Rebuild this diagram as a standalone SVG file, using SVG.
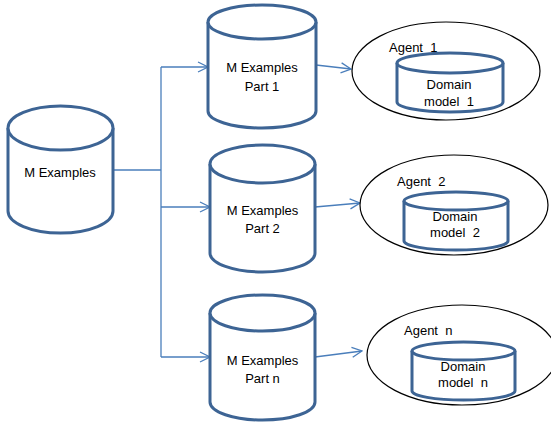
<svg xmlns="http://www.w3.org/2000/svg" width="551" height="428" viewBox="0 0 551 428">
<defs>
<style>
.cyl{fill:#fff;stroke:#3d6494;stroke-width:3}
.agent{fill:#fff;stroke:#000;stroke-width:1.2}
.conn{fill:none;stroke:#4a7ebb;stroke-width:1.3}
text{font-family:"Liberation Sans",Arial,sans-serif;font-size:13px;fill:#000}
.c{text-anchor:middle}
</style>
<marker id="arr" viewBox="0 0 12 12" refX="11" refY="6" markerWidth="12" markerHeight="12" markerUnits="userSpaceOnUse" orient="auto">
<path d="M1,1 L11,6 L1,11" fill="none" stroke="#4a7ebb" stroke-width="1.3"/>
</marker>
</defs>
<g id="connectors">
<path class="conn" d="M113,170 H161"/>
<path class="conn" d="M161,67 V357"/>
<path class="conn" d="M161,67 H208" marker-end="url(#arr)"/>
<path class="conn" d="M161,207 H210" marker-end="url(#arr)"/>
<path class="conn" d="M161,357 H210" marker-end="url(#arr)"/>
<path class="conn" d="M316,65 L351,69" marker-end="url(#arr)"/>
<path class="conn" d="M315,207 L360,203" marker-end="url(#arr)"/>
<path class="conn" d="M315,357 L362,351" marker-end="url(#arr)"/>
</g>
<g id="m-examples">
<path class="cyl" d="M8,128 V211 A52.5,22 0 0 0 113,211 V128"/>
<ellipse class="cyl" cx="60.5" cy="128" rx="52.5" ry="22"/>
<text class="c" x="60" y="177">M Examples</text>
</g>
<g id="part1">
<path class="cyl" d="M208,22 V111 A54,17 0 0 0 316,111 V22"/>
<ellipse class="cyl" cx="262" cy="22" rx="54" ry="17"/>
<text class="c" x="262" y="72">M Examples</text>
<text class="c" x="262" y="91">Part 1</text>
</g>
<g id="part2">
<path class="cyl" d="M210,164 V253 A52.5,19 0 0 0 315,253 V164"/>
<ellipse class="cyl" cx="262.5" cy="164" rx="52.5" ry="19"/>
<text class="c" x="262.5" y="215">M Examples</text>
<text class="c" x="262.5" y="233">Part 2</text>
</g>
<g id="partn">
<path class="cyl" d="M210,313 V402 A52.5,18 0 0 0 315,402 V313"/>
<ellipse class="cyl" cx="262.5" cy="313" rx="52.5" ry="18"/>
<text class="c" x="262.5" y="365">M Examples</text>
<text class="c" x="262.5" y="383">Part n</text>
</g>
<g id="agent1">
<ellipse class="agent" cx="446" cy="71" rx="94" ry="49"/>
<text x="389" y="52" xml:space="preserve">Agent  1</text>
<g id="domain1">
<path class="cyl" d="M397,63 V102 A53,10 0 0 0 503,102 V63"/>
<ellipse class="cyl" cx="450" cy="63" rx="53" ry="10"/>
<text class="c" x="449" y="89">Domain</text>
<text class="c" x="449" y="106" xml:space="preserve">model  1</text>
</g>
</g>
<g id="agent2">
<ellipse class="agent" cx="454" cy="205" rx="94" ry="50"/>
<text x="397" y="186" xml:space="preserve">Agent  2</text>
<g id="domain2">
<path class="cyl" d="M404,201 V241 A52,9 0 0 0 508,241 V201"/>
<ellipse class="cyl" cx="456" cy="201" rx="52" ry="9"/>
<text class="c" x="455" y="221">Domain</text>
<text class="c" x="455" y="237" xml:space="preserve">model  2</text>
</g>
</g>
<g id="agentn">
<ellipse class="agent" cx="462" cy="355" rx="95" ry="50"/>
<text x="404" y="335" xml:space="preserve">Agent  n</text>
<g id="domainn">
<path class="cyl" d="M412,351 V391 A51.5,9 0 0 0 515,391 V351"/>
<ellipse class="cyl" cx="463.5" cy="351" rx="51.5" ry="9"/>
<text class="c" x="463" y="371">Domain</text>
<text class="c" x="463" y="387" xml:space="preserve">model  n</text>
</g>
</g>
</svg>
